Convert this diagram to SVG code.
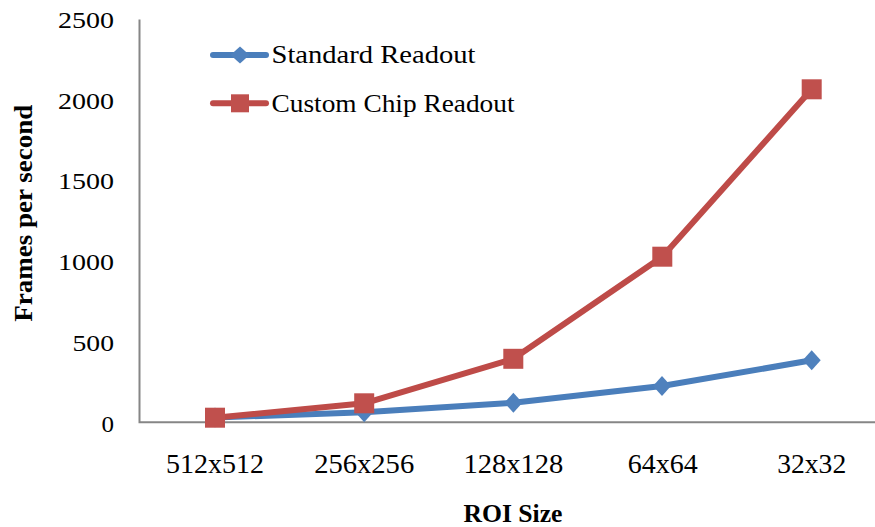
<svg xmlns="http://www.w3.org/2000/svg" width="875" height="527" viewBox="0 0 875 527">
<style>
.ax{stroke:#868686;stroke-width:2;fill:none}
.bl{stroke:#4A7EBB;stroke-width:6;fill:none;stroke-linejoin:round;stroke-linecap:round}
.rl{stroke:#BE4B48;stroke-width:6;fill:none;stroke-linejoin:round;stroke-linecap:round}
.bm{fill:#4F81BD}
.rm{fill:#C0504D}
.yt{font-family:"Liberation Serif",serif;font-size:24px;fill:#000;text-anchor:end}
.xt{font-family:"Liberation Serif",serif;font-size:27px;fill:#000;text-anchor:middle}
.lg{font-family:"Liberation Serif",serif;font-size:25px;fill:#000}
.ti{font-family:"Liberation Serif",serif;font-size:26px;font-weight:bold;fill:#000;text-anchor:middle}
</style>
<defs>
<polygon id="dia" points="0,-10 9,0 0,10 -9,0"/>
<rect id="sq" x="-10" y="-10" width="20" height="20"/>
</defs>
<rect width="875" height="527" fill="#fff"/>
<g id="axes">
<path class="ax" d="M139.5,19.5 V422.3 H875"/>
</g>
<g id="y-labels">
<text class="yt" x="114" y="28.3" textLength="56" lengthAdjust="spacingAndGlyphs">2500</text>
<text class="yt" x="114" y="108.5" textLength="56" lengthAdjust="spacingAndGlyphs">2000</text>
<text class="yt" x="114" y="189.3" textLength="56" lengthAdjust="spacingAndGlyphs">1500</text>
<text class="yt" x="114" y="270" textLength="56" lengthAdjust="spacingAndGlyphs">1000</text>
<text class="yt" x="114" y="351" textLength="41.5" lengthAdjust="spacingAndGlyphs">500</text>
<text class="yt" x="114" y="431.7" textLength="12.5" lengthAdjust="spacingAndGlyphs">0</text>
</g>
<g id="x-labels">
<text class="xt" x="215" y="473" textLength="98" lengthAdjust="spacingAndGlyphs">512x512</text>
<text class="xt" x="364.2" y="473" textLength="100" lengthAdjust="spacingAndGlyphs">256x256</text>
<text class="xt" x="513.4" y="473" textLength="100" lengthAdjust="spacingAndGlyphs">128x128</text>
<text class="xt" x="662.8" y="473" textLength="70" lengthAdjust="spacingAndGlyphs">64x64</text>
<text class="xt" x="811.7" y="473" textLength="69" lengthAdjust="spacingAndGlyphs">32x32</text>
</g>
<g id="titles">
<text class="ti" x="513" y="521.7" textLength="99" lengthAdjust="spacingAndGlyphs">ROI Size</text>
<text class="ti" transform="translate(32,213.3) rotate(-90)" x="0" y="0" textLength="217" lengthAdjust="spacingAndGlyphs">Frames per second</text>
</g>
<g id="connectors">
<polyline class="bl" points="215,417.5 364.2,412.3 513.4,402.7 662,386 811.7,360.3"/>
<polyline class="rl" points="215,417.7 364.2,403.3 513.3,358.8 662.3,256.7 811.7,89.3"/>
</g>
<g id="series-standard">
<use href="#dia" class="bm" x="215" y="417.5"/>
<use href="#dia" class="bm" x="364.2" y="412.3"/>
<use href="#dia" class="bm" x="513.4" y="402.7"/>
<use href="#dia" class="bm" x="662" y="386"/>
<use href="#dia" class="bm" x="811.7" y="360.3"/>
</g>
<g id="series-custom">
<use href="#sq" class="rm" x="215" y="417.7"/>
<use href="#sq" class="rm" x="364.2" y="403.3"/>
<use href="#sq" class="rm" x="513.3" y="358.8"/>
<use href="#sq" class="rm" x="662.3" y="256.7"/>
<use href="#sq" class="rm" x="811.7" y="89.3"/>
</g>
<g id="legend">
<line class="bl" x1="213" y1="55" x2="266" y2="55"/>
<polygon class="bm" points="240,46.5 249.5,55 240,63.5 230.5,55"/>
<text class="lg" x="271.5" y="63.3" textLength="204" lengthAdjust="spacingAndGlyphs">Standard Readout</text>
<line class="rl" x1="213" y1="103.3" x2="266" y2="103.3"/>
<rect class="rm" x="231" y="94.3" width="18" height="18"/>
<text class="lg" x="271.5" y="111.7" textLength="243" lengthAdjust="spacingAndGlyphs">Custom Chip Readout</text>
</g>
</svg>
